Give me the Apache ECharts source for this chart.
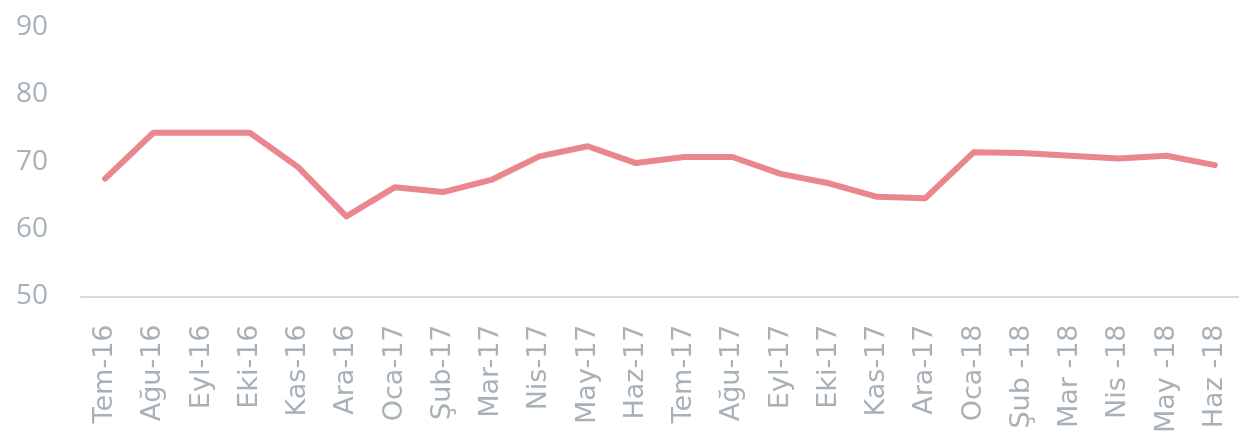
<!DOCTYPE html>
<html>
<head>
<meta charset="utf-8">
<script src="https://cdn.jsdelivr.net/npm/echarts@6/dist/echarts.min.js"></script>
<style>html,body{margin:0;padding:0;background:#fff}#c{width:1239px;height:436px}</style>
</head>
<body>
<div id="c"></div>
<script>
var categories = ['Tem-16','Ağu-16','Eyl-16','Eki-16','Kas-16','Ara-16','Oca-17','Şub-17','Mar-17','Nis-17','May-17','Haz-17','Tem-17','Ağu-17','Eyl-17','Eki-17','Kas-17','Ara-17','Oca-18','Şub -18','Mar -18','Nis -18','May -18','Haz -18'];
var values = [67.5,74.3,74.3,74.3,69.2,61.9,66.2,65.5,67.3,70.8,72.3,69.8,70.7,70.7,68.2,66.8,64.8,64.6,71.4,71.3,70.9,70.5,70.9,69.5];
var yTicks = [50,60,70,80,90];

var chart = echarts.init(document.getElementById('c'), null, {renderer:'canvas'});
chart.setOption({
  animation: false,
  grid: {left: 81, right: 0, top: 27, bottom: 138, containLabel: false},
  xAxis: {
    type: 'category',
    data: categories,
    boundaryGap: true,
    axisLine: {show: true, lineStyle: {color: '#D9D9D9', width: 2}},
    axisTick: {show: false},
    axisLabel: {rotate: 90, margin: 28, fontFamily: 'DejaVu Sans', fontSize: 27, color: '#A8B1B7', interval: 0}
  },
  yAxis: {
    type: 'value',
    min: yTicks[0], max: yTicks[yTicks.length-1], interval: 10,
    axisLine: {show: false},
    axisTick: {show: false},
    splitLine: {show: false},
    axisLabel: {margin: 33, fontFamily: 'Open Sans', fontSize: 28, color: '#A8B1B7'}
  },
  series: [{
    type: 'line',
    data: values,
    showSymbol: false,
    symbol: 'none',
    lineStyle: {color: '#EA868E', width: 6, cap: 'round', join: 'round'}
  }]
});
</script>
</body>
</html>
